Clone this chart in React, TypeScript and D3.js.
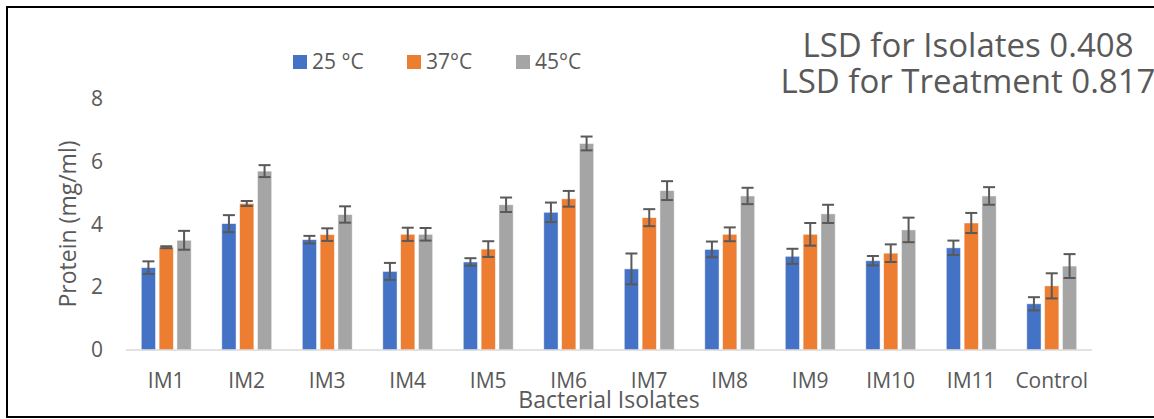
import React, { useEffect, useRef } from 'react';
import * as d3 from 'd3';

const categories = ['IM1', 'IM2', 'IM3', 'IM4', 'IM5', 'IM6', 'IM7', 'IM8', 'IM9', 'IM10', 'IM11', 'Control'];
const seriesNames = ['25 °C', '37°C', '45°C'];
const colors = ['#4472C4', '#ED7D31', '#A5A5A5'];

const temp25 = [2.62, 4.02, 3.51, 2.50, 2.80, 4.38, 2.58, 3.20, 2.98, 2.84, 3.25, 1.47];
const temp37 = [3.27, 4.66, 3.67, 3.68, 3.21, 4.81, 4.21, 3.68, 3.68, 3.08, 4.04, 2.04];
const temp45 = [3.49, 5.69, 4.31, 3.68, 4.62, 6.57, 5.07, 4.90, 4.33, 3.82, 4.90, 2.67];

const err25 = [0.2, 0.27, 0.12, 0.27, 0.12, 0.31, 0.49, 0.25, 0.24, 0.15, 0.23, 0.21];
const err37 = [0.03, 0.08, 0.2, 0.21, 0.25, 0.25, 0.27, 0.22, 0.36, 0.28, 0.32, 0.4];
const err45 = [0.3, 0.19, 0.26, 0.2, 0.23, 0.22, 0.3, 0.26, 0.29, 0.39, 0.28, 0.38];

const yTicks = [0, 2, 4, 6, 8];
const lsdLines = ['LSD for Isolates 0.408', 'LSD for Treatment 0.817'];

const FONT = '"Open Sans", "Noto Sans", sans-serif';
const TEXT = '#595959';

const App = () => {
    const ref = useRef(null);

    useEffect(() => {
        const svg = d3.select(ref.current);
        svg.selectAll('*').remove();

        const values = [temp25, temp37, temp45];
        const errors = [err25, err37, err45];

        const x0 = d3.scaleBand()
            .domain(categories)
            .range([126, 1092])
            .paddingInner(0.38)
            .paddingOuter(0.19);

        const x1 = d3.scaleBand()
            .domain(seriesNames)
            .range([0, x0.bandwidth()])
            .paddingInner(0.2);

        const y = d3.scaleLinear().domain([0, 8]).range([350, 98.5]);

        // chart border (right edge is cut off in the original)
        svg.append('rect')
            .attr('x', 7).attr('y', 7)
            .attr('width', 1160).attr('height', 410)
            .attr('fill', 'white')
            .attr('stroke', '#000')
            .attr('stroke-width', 2);

        // y tick labels
        svg.append('g')
            .selectAll('text')
            .data(yTicks)
            .join('text')
            .attr('x', 103)
            .attr('y', d => y(d))
            .attr('dy', '0.35em')
            .attr('text-anchor', 'end')
            .attr('font-family', FONT)
            .attr('font-size', 21)
            .attr('fill', TEXT)
            .text(d => d);

        // bars
        seriesNames.forEach((name, si) => {
            const g = svg.append('g');
            g.selectAll('rect')
                .data(values[si])
                .join('rect')
                .attr('x', (d, i) => x0(categories[i]) + x1(name))
                .attr('y', d => y(d))
                .attr('width', x1.bandwidth())
                .attr('height', d => y(0) - y(d))
                .attr('fill', colors[si])
                .attr('stroke', 'rgba(255,255,255,0.6)')
                .attr('stroke-width', 0.8);
        });

        // baseline
        svg.append('line')
            .attr('x1', 126).attr('x2', 1092)
            .attr('y1', y(0)).attr('y2', y(0))
            .attr('stroke', '#D9D9D9')
            .attr('stroke-width', 1.5);

        // error bars
        seriesNames.forEach((name, si) => {
            const g = svg.append('g')
                .attr('stroke', TEXT)
                .attr('stroke-width', 2);
            values[si].forEach((v, i) => {
                const cx = x0(categories[i]) + x1(name) + x1.bandwidth() / 2;
                const top = y(v + errors[si][i]);
                const bot = y(v - errors[si][i]);
                g.append('line').attr('x1', cx).attr('x2', cx).attr('y1', top).attr('y2', bot);
                g.append('line').attr('x1', cx - 6).attr('x2', cx + 6).attr('y1', top).attr('y2', top);
                g.append('line').attr('x1', cx - 6).attr('x2', cx + 6).attr('y1', bot).attr('y2', bot);
            });
        });

        // category labels
        svg.append('g')
            .selectAll('text')
            .data(categories)
            .join('text')
            .attr('x', d => x0(d) + x0.bandwidth() / 2)
            .attr('y', 381)
            .attr('dy', '0.35em')
            .attr('text-anchor', 'middle')
            .attr('font-family', FONT)
            .attr('font-size', 21)
            .attr('fill', TEXT)
            .text(d => d);

        // axis titles
        svg.append('text')
            .attr('x', 609).attr('y', 400)
            .attr('dy', '0.35em')
            .attr('text-anchor', 'middle')
            .attr('font-family', FONT)
            .attr('font-size', 23)
            .attr('fill', TEXT)
            .text('Bacterial Isolates');

        svg.append('text')
            .attr('transform', 'translate(68,224) rotate(-90)')
            .attr('dy', '0.35em')
            .attr('text-anchor', 'middle')
            .attr('font-family', FONT)
            .attr('font-size', 23)
            .attr('fill', TEXT)
            .text('Protein (mg/ml)');

        // legend
        const legendX = [293, 407, 516];
        const legend = svg.append('g');
        seriesNames.forEach((name, i) => {
            legend.append('rect')
                .attr('x', legendX[i]).attr('y', 55)
                .attr('width', 14).attr('height', 14)
                .attr('fill', colors[i]);
            legend.append('text')
                .attr('x', legendX[i] + 19).attr('y', 62)
                .attr('dy', '0.35em')
                .attr('font-family', FONT)
                .attr('font-size', 21)
                .attr('fill', TEXT)
                .text(name);
        });

        // LSD annotation
        svg.append('g')
            .selectAll('text')
            .data(lsdLines)
            .join('text')
            .attr('x', 968)
            .attr('y', (d, i) => 57 + i * 36)
            .attr('text-anchor', 'middle')
            .attr('font-family', FONT)
            .attr('font-size', 33)
            .attr('fill', TEXT)
            .text(d => d);
    }, []);

    return (
        <svg
            ref={ref}
            width={1154}
            height={419}
            style={{ position: 'absolute', left: 0, top: 0 }}
        />
    );
};

export default App;
